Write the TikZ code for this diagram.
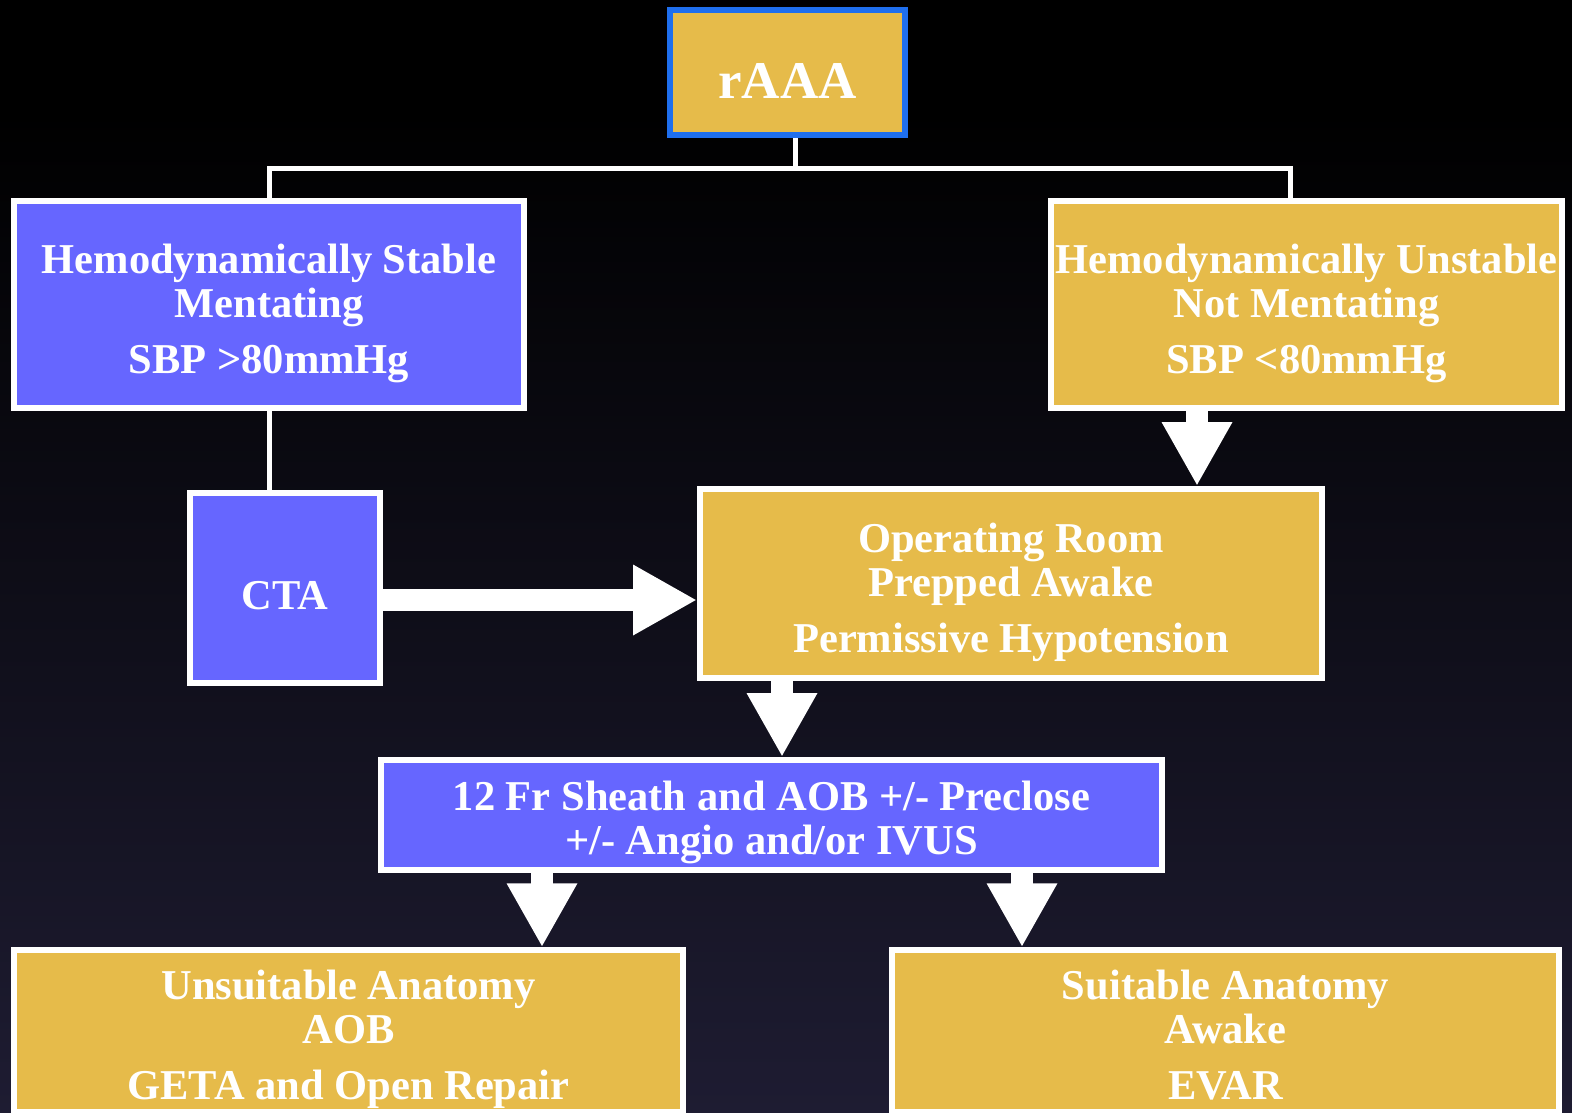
\documentclass[tikz,border=0pt]{standalone}
\usepackage{fontspec}
\setmainfont{Liberation Serif}
\usetikzlibrary{arrows.meta}

\definecolor{boxgold}{RGB}{230,187,74}
\definecolor{boxblue}{RGB}{102,102,255}
\definecolor{rootblue}{RGB}{31,111,238}
\definecolor{bgbot}{RGB}{52,50,78}
\definecolor{bgmid}{RGB}{30,28,50}
\pgfdeclareverticalshading{slidebg}{100bp}{color(0bp)=(bgbot); color(25bp)=(bgmid); color(70bp)=(black); color(100bp)=(black)}

\begin{document}
\begin{tikzpicture}[x=1pt, y=-1pt,
   every node/.style={draw=white, line width=6pt, text=white, align=center, inner sep=0pt,
                      text depth=12pt, font=\bfseries\fontsize{42.5}{44}\selectfont},
   goldbox/.style={fill=boxgold},
   bluebox/.style={fill=boxblue},
   threeline/.style={text height=149.5pt},
   wire/.style={draw=white, line width=5pt},
   bigarrow/.style={draw=white, line width=22pt, -{Triangle[width=66pt,length=64pt]}}]

\useasboundingbox (0,0) rectangle (1572,1112);
\shade[shading=slidebg] (0,0) rectangle (1572,1112);

\node[goldbox, draw=rootblue, minimum width=235pt, minimum height=125pt, text height=63pt,
      font=\bfseries\fontsize{53}{56}\selectfont] (root) at (787.5,72.5) {rAAA};

\node[bluebox, threeline, minimum width=510pt, minimum height=207pt] (stable) at (269,304.5)
    {Hemodynamically Stable\\Mentating\\[12pt]SBP >80mmHg};
\node[goldbox, threeline, minimum width=511pt, minimum height=207pt] (unstable) at (1306.5,304.5)
    {Hemodynamically Unstable\\Not Mentating\\[12pt]SBP <80mmHg};

\node[bluebox, text height=55pt, minimum width=190pt, minimum height=190pt] (cta) at (285,588) {CTA};
\node[goldbox, threeline, minimum width=622pt, minimum height=189pt] (oproom) at (1011,583.5)
    {Operating Room\\Prepped Awake\\[12pt]Permissive Hypotension};

\node[bluebox, text height=91.5pt, minimum width=781pt, minimum height=110pt] (sheath) at (771.5,815)
    {12 Fr Sheath and AOB +/- Preclose\\+/- Angio and/or IVUS};

\node[goldbox, threeline, minimum width=669pt, minimum height=160pt] (unsuit) at (348.5,1031)
    {Unsuitable Anatomy\\AOB\\[12pt]GETA and Open Repair};
\node[goldbox, threeline, minimum width=667pt, minimum height=160pt] (suit) at (1225.5,1031)
    {Suitable Anatomy\\Awake\\[12pt]EVAR};

% columns of the connectors
\coordinate (split) at (795,168);
\coordinate (col1) at (1290,0);
\coordinate (col2) at (1197,0);
\coordinate (col3) at (782,0);
\coordinate (col4) at (542,0);
\coordinate (col5) at (1022,0);
\coordinate (row1) at (0,600);

\draw[wire] (root.south -| split) -- (split);
\draw[wire] (stable.north) |- (split) -| (unstable.north -| col1);
\draw[wire] (stable.south) -- (stable.south |- cta.north);

\draw[bigarrow] (unstable.south -| col2) -- (oproom.north -| col2);
\draw[bigarrow] (cta.east |- row1) -- (oproom.west |- row1);
\draw[bigarrow] (oproom.south -| col3) -- (sheath.north -| col3);
\draw[bigarrow] (sheath.south -| col4) -- (unsuit.north -| col4);
\draw[bigarrow] (sheath.south -| col5) -- (suit.north -| col5);

\end{tikzpicture}
\end{document}
